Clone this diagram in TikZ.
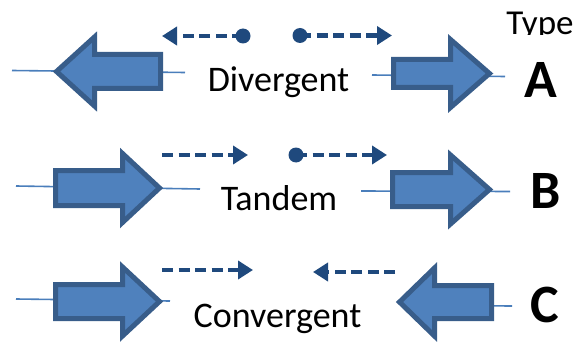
\documentclass[tikz,border=0pt]{standalone}
\usepackage{fontspec}
\setmainfont{Carlito}
\usetikzlibrary{arrows.meta}
\definecolor{genefill}{HTML}{4F81BD}
\definecolor{geneedge}{HTML}{385D8A}
\definecolor{geneline}{HTML}{4A7EBB}
\definecolor{txcol}{HTML}{1F497D}

% block arrow for a gene: #1 name, #2 tail x, #3 head base x, #4 tip x,
% #5 centre y, #6 half shaft height, #7 half head height
\newcommand\genearrow[7]{%
  \draw[genebox] (#2,#5-#6) -- (#3,#5-#6) -- (#3,#5-#7) -- (#4,#5)
    -- (#3,#5+#7) -- (#3,#5+#6) -- (#2,#5+#6) -- cycle;
  \coordinate (#1-tip) at (#4,#5);
  \coordinate (#1-tail) at (#2,#5);}

\tikzset{
  genebox/.style={fill=genefill, draw=geneedge, line width=5pt, miter limit=10},
  gline/.style={draw=geneline, line width=1.6pt},
  txarrow/.style={draw=txcol, line width=4.4pt, dash pattern=on 11pt off 5.5pt,
    -{Triangle[length=15pt,width=18pt]}},
  txdot/.style={fill=txcol},
  lbl/.style={font=\fontsize{36}{40}\selectfont, inner sep=0pt, anchor=base},
  typeletter/.style={font=\fontsize{54}{60}\selectfont\bfseries, inner sep=0pt, anchor=base}
}

\begin{document}
\begin{tikzpicture}[x=1pt, y=-1pt]
\useasboundingbox (0,0) rectangle (578,342);

% gene backbones
\coordinate (la1) at (12,70.5);  \coordinate (la2) at (185,72.5);
\coordinate (ra1) at (372,75);   \coordinate (ra2) at (505,76.5);
\coordinate (lb1) at (16,186);   \coordinate (lb2) at (200,189);
\coordinate (rb1) at (361,191);  \coordinate (rb2) at (510,191.5);
\coordinate (lc1) at (16,299);   \coordinate (lc2) at (170,301);
\coordinate (rc1) at (440,305.5);\coordinate (rc2) at (512,306);
\draw[gline] (la1) -- (la2);
\draw[gline] (ra1) -- (ra2);
\draw[gline] (lb1) -- (lb2);
\draw[gline] (rb1) -- (rb2);
\draw[gline] (lc1) -- (lc2);
\draw[gline] (rc1) -- (rc2);

% genes
\genearrow{gA1}{160.5}{94.5}{56.5}{71.5}{17}{34.5}
\genearrow{gA2}{393.5}{450.5}{489.5}{73.5}{14}{34}
\genearrow{gB1}{55.5}{122.5}{159.5}{188}{17.5}{34.5}
\genearrow{gB2}{392.5}{450.5}{489.5}{189.5}{17}{34.5}
\genearrow{gC1}{55.5}{122.5}{159.5}{301.5}{17}{34.5}
\genearrow{gC2}{491.5}{434.5}{399.5}{302}{16.5}{34}

% transcription directions
\coordinate (tA1s) at (243,36);   \coordinate (tA1e) at (162,36);
\coordinate (tA2s) at (300,35.5); \coordinate (tA2e) at (392,35.5);
\coordinate (tB1s) at (162,155);  \coordinate (tB1e) at (248,155);
\coordinate (tB2s) at (296,155);  \coordinate (tB2e) at (387,155);
\coordinate (tC1s) at (162,270);  \coordinate (tC1e) at (253,270);
\coordinate (tC2s) at (395,272);  \coordinate (tC2e) at (313,272);
\draw[txarrow] (tA1s) -- (tA1e);
\draw[txarrow] (tA2s) -- (tA2e);
\draw[txarrow] (tB1s) -- (tB1e);
\draw[txarrow] (tB2s) -- (tB2e);
\draw[txarrow] (tC1s) -- (tC1e);
\draw[txarrow] (tC2s) -- (tC2e);
\fill[txdot] (tA1s) circle (7.5pt);
\fill[txdot] (tA2s) circle (7.5pt);
\fill[txdot] (tB2s) circle (7.5pt);

% labels
\node[lbl] (div) at (278.5,92) {Divergent};
\node[lbl] (tan) at (279,210) {Tandem};
\node[lbl] (con) at (277.5,327) {Convergent};

\begin{scope}
  \clip (490,0) rectangle (578,34.5);
  \node[lbl, font=\fontsize{35}{40}\selectfont] (type) at (540,35) {Type};
\end{scope}
\node[typeletter] (ta) at (541,98) {A};
\node[typeletter] (tb) at (545.5,208) {B};
\node[typeletter] (tc) at (545,322) {C};
\end{tikzpicture}
\end{document}
